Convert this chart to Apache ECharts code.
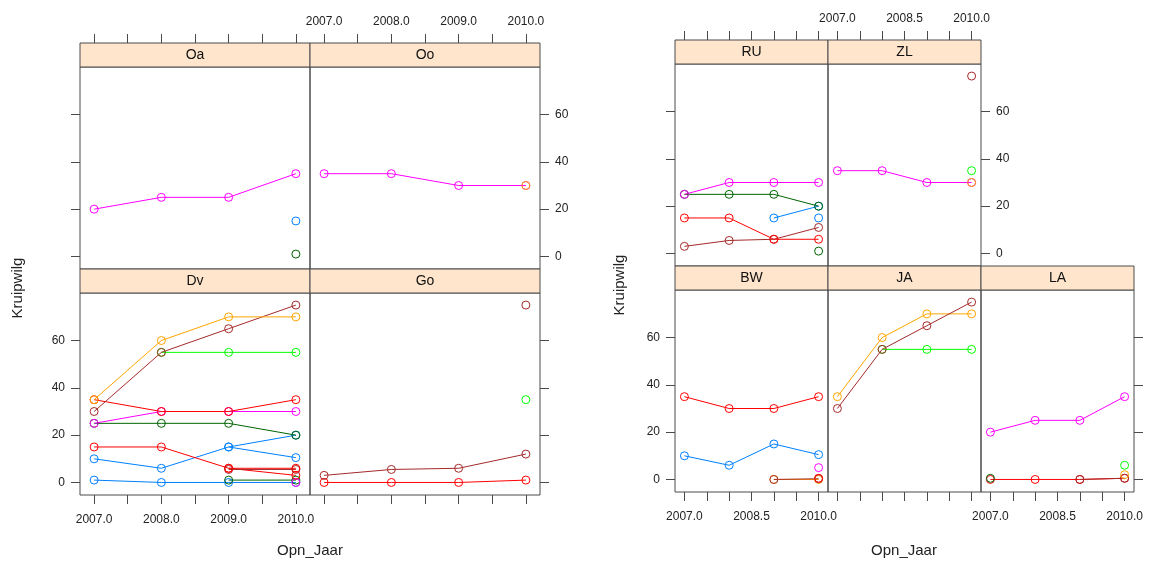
<!DOCTYPE html>
<html><head><meta charset="utf-8">
<script src="https://cdn.jsdelivr.net/npm/echarts@6/dist/echarts.min.js"></script>
<style>html,body{margin:0;padding:0;background:#fff}#c{width:1156px;height:563px}</style>
</head><body><div id="c"></div>
<script>
// ---------------- data ----------------
const years = [2007, 2008, 2009, 2010];
const xTicks = [2007, 2007.5, 2008, 2008.5, 2009, 2009.5, 2010];
const xLabelsLeft = [2007, 2008, 2009, 2010];
const xLabelsRight = [2007, 2008.5, 2010];
const yTicks = [0, 20, 40, 60];
const yTitle = 'Kruipwilg';
const xTitle = 'Opn_Jaar';

// panel Oa
const oaMagenta = [20, 25, 25, 35];
const oaBlue = [null, null, null, 15];
const oaDarkgreen = [null, null, null, 1];
// panel Oo
const ooMagenta = [35, 35, 30, 30];
const ooOrange = [null, null, null, 30];
// panel Dv
const dvBlueC = [1, 0, 0, 0];
const dvDarkgreenB = [null, null, 1, 1];
const dvMagentaB = [null, null, null, 0];
const dvRedC = [null, null, 6, 3];
const dvBrownB = [null, null, 5.5, 5.5];
const dvBlueA = [10, 6, 15, 10.5];
const dvBlueB = [null, null, 15, 20];
const dvRedB = [15, 15, 6, 6];
const dvDarkgreenA = [25, 25, 25, 20];
const dvMagentaA = [25, 30, 30, 30];
const dvRedA = [35, 30, 30, 35];
const dvGreen = [null, 55, 55, 55];
const dvBrown = [30, 55, 65, 75];
const dvOrange = [35, 60, 70, 70];
// panel Go
const goRed = [0, 0, 0, 1];
const goBrown = [3, 5.5, 6, 12];
const goGreen = [null, null, null, 35];
const goBrownB = [null, null, null, 75];
// panel RU
const ruDarkgreenB = [null, null, null, 1];
const ruBrown = [3, 5.5, 6, 11];
const ruRed = [15, 15, 6, 6];
const ruBlueB = [null, null, null, 15];
const ruBlueA = [null, null, 15, 20];
const ruDarkgreen = [25, 25, 25, 20];
const ruMagenta = [25, 30, 30, 30];
// panel ZL
const zlMagenta = [35, 35, 30, 30];
const zlOrange = [null, null, null, 30];
const zlGreen = [null, null, null, 35];
const zlBrown = [null, null, null, 75];
// panel BW
const bwOrange = [null, null, 0, 0];
const bwBrown = [null, null, 0, 0.3];
const bwRedB = [null, null, null, 0.5];
const bwMagenta = [null, null, null, 5];
const bwBlue = [10, 6, 15, 10.5];
const bwRed = [35, 30, 30, 35];
// panel JA
const jaGreen = [null, 55, 55, 55];
const jaOrange = [35, 60, 70, 70];
const jaBrown = [30, 55, 65, 75];
// panel LA
const laRed = [0, 0, 0, 0.5];
const laDarkgreen = [0.5, null, null, null];
const laBrown = [null, null, 0, 0.5];
const laOrange = [null, null, null, 2];
const laGreen = [null, null, null, 6];
const laMagenta = [20, 25, 25, 35];

// ---------------- style ----------------
const C = {blue:'#0080ff', magenta:'#ff00ff', darkgreen:'#006400', red:'#ff0000',
           orange:'#ffa500', green:'#00ff00', brown:'#a52a2a'};
const FONT = 'Liberation Sans, Arial, Helvetica, sans-serif';
const X_MIN = 2006.79, X_MAX = 2010.21, Y_MIN = -5.3, Y_MAX = 80.1;
const STRIP_H = 24, PANEL_H = 202;
const LEFT_COLS = [80, 310], LEFT_W = 230, LEFT_ROWS = [67, 293];
const RIGHT_COLS = [675, 828, 981], RIGHT_W = 153, RIGHT_ROWS = [64, 290];

const panels = [
  {name:'Oa', x:LEFT_COLS[0], y:LEFT_ROWS[0], w:LEFT_W, xPos:'top', xLab:null, yPos:'left', yLab:false,
   s:[[oaMagenta,C.magenta],[oaBlue,C.blue],[oaDarkgreen,C.darkgreen]]},
  {name:'Oo', x:LEFT_COLS[1], y:LEFT_ROWS[0], w:LEFT_W, xPos:'top', xLab:xLabelsLeft, yPos:'right', yLab:true,
   s:[[ooMagenta,C.magenta],[ooOrange,C.orange]]},
  {name:'Dv', x:LEFT_COLS[0], y:LEFT_ROWS[1], w:LEFT_W, xPos:'bottom', xLab:xLabelsLeft, yPos:'left', yLab:true,
   s:[[dvBlueC,C.blue],[dvDarkgreenB,C.darkgreen],[dvMagentaB,C.magenta],[dvRedC,C.red],[dvBrownB,C.brown],
      [dvBlueA,C.blue],[dvBlueB,C.blue],[dvRedB,C.red],[dvDarkgreenA,C.darkgreen],[dvMagentaA,C.magenta],
      [dvRedA,C.red],[dvGreen,C.green],[dvBrown,C.brown],[dvOrange,C.orange]]},
  {name:'Go', x:LEFT_COLS[1], y:LEFT_ROWS[1], w:LEFT_W, xPos:'bottom', xLab:null, yPos:'right', yLab:false,
   s:[[goRed,C.red],[goBrown,C.brown],[goGreen,C.green],[goBrownB,C.brown]]},
  {name:'RU', x:RIGHT_COLS[0], y:RIGHT_ROWS[0], w:RIGHT_W, xPos:'top', xLab:null, yPos:'left', yLab:false,
   s:[[ruDarkgreenB,C.darkgreen],[ruBrown,C.brown],[ruRed,C.red],[ruBlueB,C.blue],[ruBlueA,C.blue],
      [ruDarkgreen,C.darkgreen],[ruMagenta,C.magenta]]},
  {name:'ZL', x:RIGHT_COLS[1], y:RIGHT_ROWS[0], w:RIGHT_W, xPos:'top', xLab:xLabelsRight, yPos:'right', yLab:true,
   s:[[zlMagenta,C.magenta],[zlOrange,C.orange],[zlGreen,C.green],[zlBrown,C.brown]]},
  {name:'BW', x:RIGHT_COLS[0], y:RIGHT_ROWS[1], w:RIGHT_W, xPos:'bottom', xLab:xLabelsRight, yPos:'left', yLab:true,
   s:[[bwOrange,C.orange],[bwBrown,C.brown],[bwRedB,C.red],[bwMagenta,C.magenta],[bwBlue,C.blue],[bwRed,C.red]]},
  {name:'JA', x:RIGHT_COLS[1], y:RIGHT_ROWS[1], w:RIGHT_W, xPos:'bottom', xLab:null, yPos:null, yLab:false,
   s:[[jaGreen,C.green],[jaOrange,C.orange],[jaBrown,C.brown]]},
  {name:'LA', x:RIGHT_COLS[2], y:RIGHT_ROWS[1], w:RIGHT_W, xPos:'bottom', xLab:xLabelsRight, yPos:'right', yLab:false,
   s:[[laRed,C.red],[laDarkgreen,C.darkgreen],[laBrown,C.brown],[laOrange,C.orange],[laGreen,C.green],[laMagenta,C.magenta]]}
];

const grid = [], xAxis = [], yAxis = [], series = [], graphic = [];
const LINE = '#4a4a4a', TXT = '#222';
panels.forEach((p, i) => {
  grid.push({left:p.x, top:p.y, width:p.w, height:PANEL_H, show:true, borderColor:LINE, borderWidth:1,
             backgroundColor:'transparent', containLabel:false, outerBoundsMode:'none'});
  xAxis.push({type:'value', gridIndex:i, min:X_MIN, max:X_MAX, position:p.xPos,
    offset: p.xPos === 'top' ? STRIP_H : 0,
    axisLine:{show:false, onZero:false}, splitLine:{show:false},
    axisTick:{show:true, inside:false, length:9, lineStyle:{color:LINE}, customValues:xTicks},
    axisLabel:{show:!!p.xLab, customValues:p.xLab || xTicks, margin:p.xPos === 'top' ? 15 : 19,
      color:TXT, fontSize:12, fontFamily:FONT, formatter:v => Number(v).toFixed(1)}});
  yAxis.push({type:'value', gridIndex:i, min:Y_MIN, max:Y_MAX, position:p.yPos || 'left', show:!!p.yPos,
    axisLine:{show:false, onZero:false}, splitLine:{show:false},
    axisTick:{show:true, inside:false, length:9, lineStyle:{color:LINE}, customValues:yTicks},
    axisLabel:{show:p.yLab, customValues:yTicks, margin:15, color:TXT, fontSize:12, fontFamily:FONT}});
  p.s.forEach(([vals, col]) => {
    series.push({type:'line', xAxisIndex:i, yAxisIndex:i, silent:true, animation:false,
      data: years.map((yr, k) => [yr, vals[k]]).filter(d => d[1] !== null),
      symbol:'circle', symbolSize:8, showSymbol:true, showAllSymbol:true,
      lineStyle:{color:col, width:1},
      itemStyle:{color:'rgba(255,255,255,0)', borderColor:col, borderWidth:1}});
  });
  // strip
  graphic.push({type:'rect', shape:{x:p.x, y:p.y - STRIP_H, width:p.w, height:STRIP_H}, silent:true,
    style:{fill:'#ffe5cc', stroke:LINE, lineWidth:1}, z:10});
  graphic.push({type:'text', x:p.x + p.w / 2, y:p.y - STRIP_H / 2, silent:true, z:11,
    style:{text:p.name, font:'14px ' + FONT, fill:'#111', align:'center', verticalAlign:'middle',
           textAlign:'center', textVerticalAlign:'middle'}});
});
// axis titles
[[18, 288, 310], [620, 285, 904]].forEach(([yx, yy, xx]) => {
  graphic.push({type:'text', x:yx, y:yy, rotation:Math.PI / 2, silent:true,
    style:{text:yTitle, font:'15px ' + FONT, fill:TXT, align:'center', verticalAlign:'middle',
           textAlign:'center', textVerticalAlign:'middle'}});
  graphic.push({type:'text', x:xx, y:551, silent:true,
    style:{text:xTitle, font:'15px ' + FONT, fill:TXT, align:'center', verticalAlign:'middle',
           textAlign:'center', textVerticalAlign:'middle'}});
});

const chart = echarts.init(document.getElementById('c'), null, {renderer:'canvas'});
chart.setOption({animation:false, backgroundColor:'#fff', grid, xAxis, yAxis, series, graphic});
</script></body></html>
